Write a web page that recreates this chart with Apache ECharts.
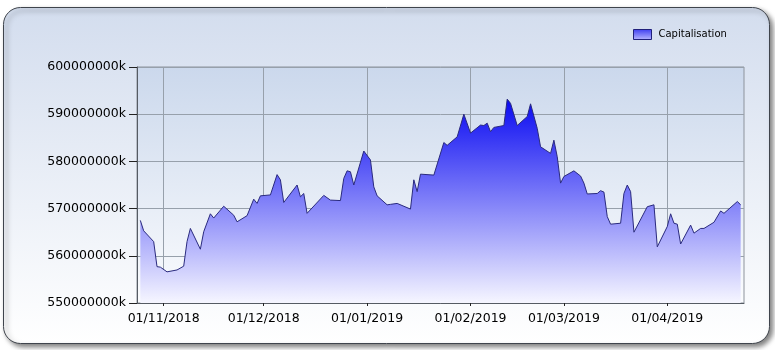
<!DOCTYPE html>
<html>
<head>
<meta charset="utf-8">
<script src="https://cdn.jsdelivr.net/npm/echarts@6/dist/echarts.min.js"></script>
<style>
html,body{margin:0;padding:0;background:#ffffff;}
#chart{width:775px;height:350px;}
</style>
</head>
<body>
<div id="chart"></div>
<script>
const seriesName = 'Capitalisation';
const dates = [
'2018-10-25','2018-10-26','2018-10-29','2018-10-30','2018-10-31',
'2018-11-02','2018-11-05','2018-11-07','2018-11-08','2018-11-09','2018-11-12','2018-11-13','2018-11-15','2018-11-16','2018-11-19','2018-11-22','2018-11-23','2018-11-26','2018-11-28','2018-11-29','2018-11-30',
'2018-12-03','2018-12-05','2018-12-06','2018-12-07','2018-12-11','2018-12-12','2018-12-13','2018-12-14','2018-12-19','2018-12-21','2018-12-24','2018-12-25','2018-12-26','2018-12-27','2018-12-28','2018-12-31',
'2019-01-02','2019-01-03','2019-01-04','2019-01-07','2019-01-08','2019-01-10','2019-01-14','2019-01-15','2019-01-16','2019-01-17','2019-01-21','2019-01-24','2019-01-25','2019-01-28','2019-01-30',
'2019-02-01','2019-02-04','2019-02-05','2019-02-06','2019-02-07','2019-02-08','2019-02-11','2019-02-12','2019-02-13','2019-02-15','2019-02-18','2019-02-19','2019-02-21','2019-02-22','2019-02-25','2019-02-26','2019-02-27','2019-02-28',
'2019-03-01','2019-03-04','2019-03-06','2019-03-07','2019-03-08','2019-03-11','2019-03-12','2019-03-13','2019-03-14','2019-03-15','2019-03-18','2019-03-19','2019-03-20','2019-03-21','2019-03-22','2019-03-26','2019-03-28','2019-03-29',
'2019-04-01','2019-04-02','2019-04-03','2019-04-04','2019-04-05','2019-04-08','2019-04-09','2019-04-11','2019-04-12','2019-04-15','2019-04-17','2019-04-18','2019-04-22','2019-04-23'
];
const values = [
567500000,565300000,563000000,557700000,557600000,
556600000,557000000,557800000,563000000,565800000,561400000,565100000,568900000,568000000,570500000,568600000,567200000,568500000,572000000,571100000,572700000,
572900000,577200000,576100000,571300000,575000000,572500000,573200000,569000000,572800000,571800000,571700000,576400000,578000000,577800000,575000000,582200000,
580300000,574600000,572700000,570800000,570900000,571100000,569900000,576100000,573600000,577300000,577100000,584000000,583400000,585200000,590000000,
586000000,587700000,587600000,588100000,586300000,587200000,587600000,593200000,592300000,587600000,589500000,592200000,587000000,583100000,581700000,584500000,581000000,575400000,
576800000,578000000,576900000,575400000,573100000,573200000,573800000,573500000,568300000,566700000,566900000,573200000,575000000,573600000,565000000,570400000,570800000,561900000,
566200000,568900000,566900000,566700000,562500000,566500000,564800000,565800000,565800000,567100000,569500000,569000000,571500000,570800000
];
const xTickDates = ['2018-11-01','2018-12-01','2019-01-01','2019-02-01','2019-03-01','2019-04-01'];
const xMin = '2018-10-24';
const xMax = '2019-04-24';
const yMin = 550000000;
const yMax = 600000000;
const yStep = 10000000;

const chart = echarts.init(document.getElementById('chart'), null, {renderer: 'canvas'});
const ts = s => { const p = s.split('-'); return Date.UTC(+p[0], +p[1]-1, +p[2]); };
const pad = n => (n < 10 ? '0' : '') + n;
const fmtDate = v => { const d = new Date(v); return pad(d.getUTCDate()) + '/' + pad(d.getUTCMonth()+1) + '/' + d.getUTCFullYear(); };

const fillGrad = new echarts.graphic.LinearGradient(0, 0, 0, 1, [
  {offset: 0, color: '#0a0af2'},
  {offset: 1, color: '#f6f6ff'}
]);
const font = 'DejaVu Sans';
const tickTs = xTickDates.map(ts);

chart.setOption({
  animation: false,
  backgroundColor: 'transparent',
  graphic: [{
    type: 'rect',
    z: -10,
    silent: true,
    shape: {x: 3.5, y: 7.5, width: 766, height: 336, r: 17},
    style: {
      fill: new echarts.graphic.LinearGradient(0, 0, 0, 1, [
        {offset: 0, color: '#d3ddee'},
        {offset: 1, color: '#ffffff'}
      ]),
      stroke: '#3f444c',
      lineWidth: 1,
      shadowBlur: 5,
      shadowOffsetX: 3,
      shadowOffsetY: 3,
      shadowColor: 'rgba(0,0,0,0.5)'
    }
  }],
  legend: {
    show: true,
    left: 628,
    top: 24,
    itemWidth: 18,
    itemHeight: 10,
    itemGap: 10,
    textStyle: {fontFamily: font, fontSize: 10, color: '#000', padding: [0, 0, 0, 2]},
    data: [{
      name: seriesName,
      icon: 'rect',
      itemStyle: {
        color: new echarts.graphic.LinearGradient(0, 0, 0, 1, [
          {offset: 0, color: '#3c3cf0'},
          {offset: 1, color: '#b8b8ff'}
        ]),
        borderColor: '#20207a',
        borderWidth: 1
      }
    }]
  },
  grid: {
    left: 137, right: 31, top: 67, bottom: 47,
    show: true,
    backgroundColor: new echarts.graphic.LinearGradient(0, 0, 0, 1, [
      {offset: 0, color: '#cbd8ec'},
      {offset: 1, color: '#fbfcfe'}
    ]),
    borderColor: '#8d939c',
    borderWidth: 1,
    containLabel: false
  },
  xAxis: {
    type: 'value',
    min: ts(xMin),
    max: ts(xMax),
    scale: true,
    axisLine: {show: true, onZero: false, lineStyle: {color: '#555b63', width: 1}},
    axisTick: {show: true, length: 3, lineStyle: {color: '#222'}, customValues: tickTs},
    minorTick: {show: false},
    axisLabel: {
      customValues: tickTs,
      formatter: v => fmtDate(v),
      fontFamily: font, fontSize: 12.5, color: '#000', margin: 9
    },
    splitLine: {show: true, lineStyle: {color: '#97a0ab', width: 1}}
  },
  yAxis: {
    type: 'value',
    min: yMin,
    max: yMax,
    interval: yStep,
    axisLine: {show: true, lineStyle: {color: '#555b63', width: 1}},
    axisTick: {show: true, length: 8, lineStyle: {color: '#222'}},
    axisLabel: {
      formatter: v => v + 'k',
      fontFamily: font, fontSize: 12.5, color: '#000', margin: 11
    },
    splitLine: {show: true, lineStyle: {color: '#97a0ab', width: 1}}
  },
  series: [{
    name: seriesName,
    type: 'line',
    data: dates.map((d, i) => [ts(d), values[i]]),
    showSymbol: false,
    symbol: 'none',
    color: '#2a2a88',
    lineStyle: {color: '#2a2a7e', width: 1},
    areaStyle: {origin: 'start', color: fillGrad, opacity: 1}
  }]
});
</script>
</body>
</html>
